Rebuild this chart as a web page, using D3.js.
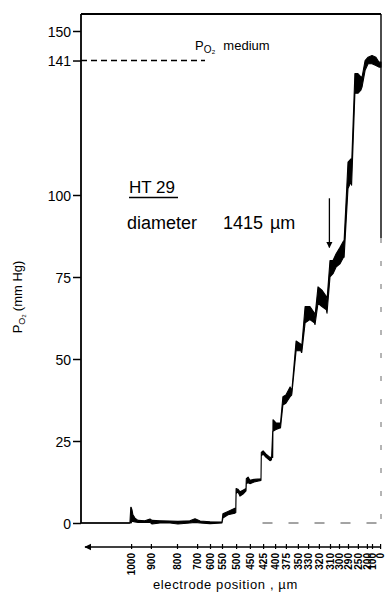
<!DOCTYPE html>
<html><head><meta charset="utf-8">
<script src="https://cdn.jsdelivr.net/npm/d3@7"></script>
<style>body{margin:0;background:#fff}svg{display:block}text{font-family:"Liberation Sans",Arial,sans-serif;fill:#000}</style>
</head><body>
<script>
// ---- data ----
const yTickValues = [0, 25, 50, 75, 100, 141, 150];
const xTickLabels = ["1000","900","800","700","600","550","500","450","425","400","375","350","330","320","310","300","290","250","200","100","0"];
// recording time (arbitrary units) at which each electrode position was reached
const xTickTimes = [16.7,23.3,32,38.7,43,47,51.7,56.3,60.7,64.7,68.3,72.3,75.7,79.3,83,86,89,92.3,95.3,97,99.7];
// PO2 trace: time, lower and upper envelope (mm Hg)
const traceT  = [0,16.3,16.6,16.7,17,17.3,18,19,21.3,23,23.7,26.3,29.7,32.3,36.3,38,39.7,43,47,47.3,49,51.3,51.6,51.7,52.3,53,54,55,55.1,55.7,56.3,57.7,60,60.1,60.7,61.7,63,63.5,63.9,64,65,66.3,66.5,67.3,68.3,69.7,70.2,70.3,71.7,73.3,73.5,73.6,74.7,76.3,77.8,78,79,80.3,81.8,82,83,84,85,86.3,87.5,87.7,89,90,90.2,91.3,92.3,93.3,93.7,94.7,95.7,97,98.3,99.3,100];
const traceLo = [0,0,0,0,0.5,0.5,0.3,0.2,0.2,0.2,-0.3,0,0,-0.3,0,0.2,0,-0.2,0,1.5,2.5,3,3.2,9,9.5,8.2,8.8,9.8,12,12.3,12,12.5,13,20.5,21,20,19,19.3,28,28,28.5,29,29,36,36.5,38.5,39,39.5,52.5,52.5,52,52,61,62,61,60.5,67,66,65,64,75,76,78,79,81,81,102,104,103,131,131,132,133,138,140,140,139.5,139,139,139];
const traceHi = [0,0,4.8,4.8,4,2.5,1.5,0.8,0.7,1.2,0.8,0.7,0.6,0.5,0.7,1.3,0.6,0.4,0.3,2.8,3.5,4.5,4.5,10.5,10.3,9.5,10,10.5,13.5,14,13,13.3,13.5,21.5,22,21,20,20,20,31.5,30.5,30.5,30.5,38.5,39,41.5,40.5,40.5,55.5,54.5,54,54,66,66,64,63,72,71,69,68,80,80,82,84,86,86,110,111,109,137,137,136,136,141,142,142.5,142,140.5,140.5,140.5];

// ---- layout ----
const W = 388, H = 593;
const plotL = 81, plotR = 381, plotT = 14, plotB = 523;
const svg = d3.select("body").append("svg").attr("width", W).attr("height", H);

const x = d3.scaleLinear().domain([0, 100]).range([plotL, plotR]);
const y = d3.scaleLinear().domain([0, 150]).range([plotB, 31]);

// frame
svg.append("line").attr("x1", plotL).attr("x2", plotR).attr("y1", plotT).attr("y2", plotT)
  .attr("stroke", "#000").attr("stroke-width", 1.8);
svg.append("line").attr("x1", plotR).attr("x2", plotR).attr("y1", plotT).attr("y2", 238)
  .attr("stroke", "#000").attr("stroke-width", 1.4);
svg.append("line").attr("x1", plotR).attr("x2", plotR).attr("y1", 238).attr("y2", plotB)
  .attr("stroke", "#444").attr("stroke-width", 0.8).attr("stroke-dasharray", "5,18");
svg.append("line").attr("x1", x(60.5)).attr("x2", plotR).attr("y1", plotB).attr("y2", plotB)
  .attr("stroke", "#333").attr("stroke-width", 0.9).attr("stroke-dasharray", "10,16");
svg.append("line").attr("x1", plotL).attr("x2", x(16.3)).attr("y1", plotB).attr("y2", plotB)
  .attr("stroke", "#000").attr("stroke-width", 1.6);

// y axis
const yAxis = d3.axisLeft(y).tickValues(yTickValues).tickSize(8).tickPadding(2);
const gy = svg.append("g").attr("transform", `translate(${plotL},0)`).call(yAxis);
gy.select(".domain").remove();
gy.selectAll(".tick line").attr("stroke", "#000").attr("stroke-width", 1.5);
gy.selectAll(".tick text").style("font-size", "14px").attr("dy", "0.36em");
svg.append("line").attr("x1", plotL).attr("x2", plotL).attr("y1", plotT).attr("y2", plotB)
  .attr("stroke", "#000").attr("stroke-width", 1.8);

// medium PO2 dashed line
svg.append("line").attr("x1", plotL).attr("x2", 205).attr("y1", y(141)).attr("y2", y(141))
  .attr("stroke", "#000").attr("stroke-width", 1.3).attr("stroke-dasharray", "6,4");
const med = svg.append("text").attr("x", 195).attr("y", 50).style("font-size", "13px");
med.append("tspan").text("P");
med.append("tspan").attr("dy", 3).style("font-size", "10px").text("O\u2082");
med.append("tspan").attr("dy", -3).attr("dx", 8).text("medium");

// trace envelope
const idx = d3.range(traceT.length);
const area = d3.area().x(i => x(traceT[i])).y0(i => y(traceLo[i])).y1(i => y(traceHi[i])).curve(d3.curveLinear);
svg.append("path").datum(idx).attr("d", area).attr("fill", "#000").attr("stroke", "#000").attr("stroke-width", 1.1).attr("stroke-linejoin", "round");

// arrow marker in plot
svg.append("defs").append("marker").attr("id", "ah").attr("viewBox", "0 0 10 10").attr("refX", 9).attr("refY", 5)
  .attr("markerWidth", 5).attr("markerHeight", 6).attr("orient", "auto")
  .append("path").attr("d", "M0,0L10,5L0,10Z").attr("fill", "#000");
svg.append("line").attr("x1", x(82.8)).attr("x2", x(82.8)).attr("y1", y(99)).attr("y2", y(84))
  .attr("stroke", "#000").attr("stroke-width", 1.3).attr("marker-end", "url(#ah)");

// annotation text
svg.append("text").attr("x", 129).attr("y", 193).style("font-size", "17px").text("HT 29");
svg.append("line").attr("x1", 129).attr("x2", 178).attr("y1", 197.5).attr("y2", 197.5).attr("stroke", "#000").attr("stroke-width", 1.6);
svg.append("text").attr("x", 127).attr("y", 229).style("font-size", "18px").text("diameter");
svg.append("text").attr("x", 223).attr("y", 229).style("font-size", "18px").text("1415");
svg.append("text").attr("x", 270).attr("y", 229).style("font-size", "18px").text("\u00b5m");

// y axis title
const yt = svg.append("text").attr("transform", "translate(22,297) rotate(-90)").attr("text-anchor", "middle").style("font-size", "13px");
yt.append("tspan").text("P");
yt.append("tspan").attr("dy", 3).style("font-size", "9px").text("O\u2082");
yt.append("tspan").attr("dy", -3).attr("dx", 3).text("(mm Hg)");

// x axis (electrode position)
const axisY = 547;
const gx = svg.append("g").attr("transform", `translate(0,${axisY})`)
  .call(d3.axisBottom(x).tickValues(xTickTimes).tickFormat((d, i) => xTickLabels[i]).tickSize(3).tickPadding(4));
gx.select(".domain").remove();
gx.selectAll(".tick line").attr("y1", -3).attr("y2", 2).attr("stroke", "#000").attr("stroke-width", 1.2);
gx.selectAll(".tick text").attr("transform", "rotate(-90)").attr("text-anchor", "end")
  .attr("x", -6).attr("y", 0).attr("dy", "0.35em").style("font-size", "10px").style("font-weight", "bold");
svg.append("line").attr("x1", plotR).attr("x2", plotL + 4).attr("y1", axisY).attr("y2", axisY)
  .attr("stroke", "#000").attr("stroke-width", 1.4).attr("marker-end", "url(#ah)");

svg.append("text").attr("x", 153).attr("y", 589).style("font-size", "13px").style("letter-spacing", "0.6px").text("electrode  position , \u00b5m");
</script>
</body></html>
